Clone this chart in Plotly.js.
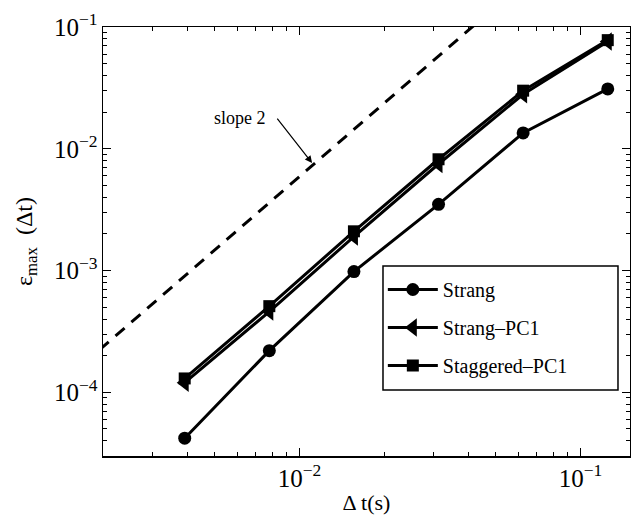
<!DOCTYPE html>
<html><head><meta charset="utf-8">
<script src="https://cdn.plot.ly/plotly-3.0.1.min.js"></script>
<style>html,body{margin:0;padding:0;background:#fff}#chart{width:631px;height:518px}</style>
</head><body><div id="chart"></div>
<script>
// time steps (s)
const dt = [0.00390625, 0.0078125, 0.015625, 0.03125, 0.0625, 0.125];
// maximum errors
const strang       = [4.2e-5, 2.2e-4, 9.8e-4, 3.5e-3, 1.35e-2, 3.1e-2];
const strangPC1    = [1.2e-4, 4.6e-4, 1.9e-3, 7.5e-3, 2.8e-2, 7.6e-2];
const staggeredPC1 = [1.3e-4, 5.1e-4, 2.1e-3, 8.2e-3, 3.0e-2, 7.8e-2];
// reference "slope 2" dashed line end points
const refX = [0.0015, 0.05];
const refY = [1.33e-4, 0.1475];
const names = ['Strang', 'Strang\u2013PC1', 'Staggered\u2013PC1'];

const FONT = 'Liberation Serif, Times New Roman, serif';
const lineW = 3;
const traces = [
  {x: refX, y: refY, mode: 'lines', line: {color: 'black', width: 3, dash: '12px,9px'}, showlegend: false, hoverinfo: 'skip'},
  {x: dt, y: strang, name: names[0], legendgroup: 'a', mode: 'lines+markers', line: {color: 'black', width: lineW},
   marker: {symbol: 'circle', size: 13, color: 'black'}},
  {x: dt, y: strangPC1, name: names[1], legendgroup: 'b', mode: 'lines+markers', line: {color: 'black', width: lineW},
   marker: {symbol: 'triangle-left', size: 16, color: 'black'}},
  {x: dt, y: staggeredPC1, name: names[2], legendgroup: 'c', mode: 'lines+markers', line: {color: 'black', width: lineW},
   marker: {symbol: 'square', size: 12, color: 'black'}}
];

const axisCommon = {
  type: 'log', showline: true, linecolor: 'black', linewidth: 1.5, mirror: 'ticks',
  ticks: 'inside', ticklen: 8, tickwidth: 1, tickcolor: 'black', dtick: 1,
  exponentformat: 'power', showgrid: false, zeroline: false,
  tickfont: {family: FONT, size: 20, color: 'black'},
  minor: {ticks: 'inside', ticklen: 4, tickwidth: 1, tickcolor: 'black', dtick: 'D1', showgrid: false}
};

const layout = {
  width: 631, height: 518,
  margin: {l: 103, r: 1, t: 27, b: 62},
  paper_bgcolor: 'white', plot_bgcolor: 'white',
  font: {family: FONT, color: 'black'},
  showlegend: true,
  xaxis: Object.assign({}, axisCommon, {
    range: [Math.log10(0.002), Math.log10(0.15)],
    title: {text: '\u0394 t(s)', font: {family: FONT, size: 22, color: 'black'}, standoff: 4}
  }),
  yaxis: Object.assign({}, axisCommon, {
    range: [Math.log10(3e-5), -1],
    title: {text: '\u03b5<sub>max</sub>  (\u0394t)', font: {family: FONT, size: 24, color: 'black'}, standoff: 14}
  }),
  legend: {
    x: 0.531, y: 0.4336, xanchor: 'left', yanchor: 'top',
    bgcolor: 'rgba(0,0,0,0)', borderwidth: 0,
    font: {family: FONT, size: 20, color: 'black'},
    itemwidth: 50, tracegroupgap: 9
  },
  shapes: [
    {type: 'rect', xref: 'paper', yref: 'paper', x0: 0.5313, x1: 0.9772, y0: 0.1538, y1: 0.4429,
     fillcolor: 'white', line: {color: 'black', width: 1.5}, layer: 'above'}
  ],
  annotations: [
    {x: -2.2115, y: -1.747, xref: 'x', yref: 'y', text: 'slope 2', showarrow: false,
     font: {family: FONT, size: 18, color: 'black'}},
    {x: -1.955, y: -2.117, xref: 'x', yref: 'y', text: '', showarrow: true,
     ax: -36, ay: -46, arrowhead: 2, arrowsize: 1.2, arrowwidth: 1.2, arrowcolor: 'black'}
  ]
};

Plotly.newPlot('chart', traces, layout, {displayModeBar: false, staticPlot: true});
</script>
</body></html>
